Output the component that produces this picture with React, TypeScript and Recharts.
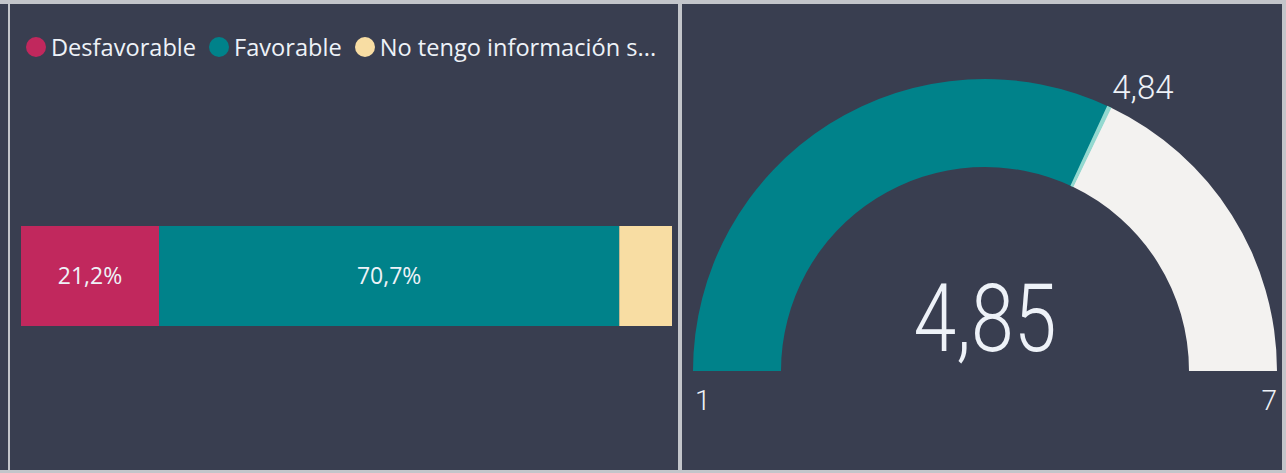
import { Bar, BarChart, Cell, LabelList, Pie, PieChart, XAxis, YAxis } from 'recharts';

const categories = ['Respuesta'];
const seriesNames = ['Desfavorable', 'Favorable', 'No tengo información suficiente'];
const seriesValues = [21.2, 70.7, 8.1];

const gaugeMin = 1;
const gaugeMax = 7;
const gaugeValue = 4.85;
const gaugeTarget = 4.84;

const BG = '#393e50';
const BORDER = '#c3c5ca';
const TEXT = '#eef2f8';
const seriesColors = ['#c1285d', '#00828a', '#f8dda3'];

const fmt = (v: number, digits = 2) => v.toFixed(digits).replace('.', ',');
const shortName = (s: string) => (s.length > 22 ? `${s.slice(0, 22)}...` : s);

const barData = categories.map((cat) => {
  const row: Record<string, any> = { cat };
  seriesNames.forEach((n, i) => (row[n] = seriesValues[i]));
  return row;
});

// gauge geometry (right panel coords)
const CX = 303;
const CY = 371;
const R_IN = 204;
const R_OUT = 292;
const MARK_W = 0.03;

const gaugeData = [
  { name: 'valor', value: gaugeValue - gaugeMin },
  { name: 'resto', value: gaugeMax - gaugeValue },
];
const targetData = [
  { name: 'a', value: gaugeTarget - gaugeMin - MARK_W / 2 },
  { name: 'objetivo', value: MARK_W },
  { name: 'b', value: gaugeMax - gaugeTarget - MARK_W / 2 },
];

const targetAngle = Math.PI - ((gaugeTarget - gaugeMin) / (gaugeMax - gaugeMin)) * Math.PI;
const tx = CX + R_OUT * Math.cos(targetAngle);
const ty = CY - R_OUT * Math.sin(targetAngle);

const font = '"Open Sans", "Noto Sans", sans-serif';
const numFont = 'Roboto, "DejaVu Sans", sans-serif';

export default function App() {
  return (
    <div style={{ position: 'absolute', left: 0, top: 0, width: 1286, height: 473, background: BG, overflow: 'hidden' }}>
      {/* frame */}
      <div style={{ position: 'absolute', left: 0, top: 0, width: 1286, height: 4, background: BORDER }} />
      <div style={{ position: 'absolute', left: 8, top: 0, width: 2, height: 473, background: BORDER }} />
      <div style={{ position: 'absolute', left: 678, top: 0, width: 4, height: 473, background: BORDER }} />
      <div style={{ position: 'absolute', left: 1282, top: 0, width: 4, height: 473, background: BORDER }} />
      <div style={{ position: 'absolute', left: 0, top: 470, width: 1286, height: 3, background: BORDER }} />

      {/* legend */}
      <div style={{ position: 'absolute', left: 26, top: 31, display: 'flex', alignItems: 'center', fontFamily: font, fontSize: 23.6, color: TEXT, whiteSpace: 'nowrap' }}>
        {seriesNames.map((n, i) => (
          <div key={n} style={{ display: 'flex', alignItems: 'center', marginRight: 13 }}>
            <span style={{ width: 20, height: 20, borderRadius: 10, background: seriesColors[i], marginRight: 5 }} />
            <span>{shortName(n)}</span>
          </div>
        ))}
      </div>

      <div style={{ position: 'absolute', left: 0, top: 0 }}>
        <BarChart width={680} height={473} data={barData} layout="vertical" margin={{ top: 79, right: 8, left: 21, bottom: 0 }}>
          <XAxis type="number" domain={[0, 100]} hide />
          <YAxis type="category" dataKey="cat" hide />
          {seriesNames.map((n, i) => (
            <Bar key={n} dataKey={n} stackId="s" fill={seriesColors[i]} barSize={100} isAnimationActive={false}>
              {seriesValues[i] >= 10 && (
                <LabelList
                  dataKey={n}
                  position="center"
                  fill={TEXT}
                  fontFamily={font}
                  fontSize={23}
                  formatter={(v: any) => `${fmt(Number(v), 1)}%`}
                />
              )}
            </Bar>
          ))}
        </BarChart>
      </div>

      <div style={{ position: 'absolute', left: 682, top: 0 }}>
        <PieChart width={600} height={470} margin={{ top: 0, right: 0, bottom: 0, left: 0 }}>
          <Pie data={gaugeData} dataKey="value" cx={CX} cy={CY} innerRadius={R_IN} outerRadius={R_OUT} startAngle={180} endAngle={0} stroke="none" isAnimationActive={false}>
            <Cell fill="#00828a" />
            <Cell fill="#f3f2f0" />
          </Pie>
          <Pie data={targetData} dataKey="value" cx={CX} cy={CY} innerRadius={R_IN} outerRadius={R_OUT} startAngle={180} endAngle={0} stroke="none" isAnimationActive={false}>
            <Cell fill="transparent" />
            <Cell fill="#93d9d0" />
            <Cell fill="transparent" />
          </Pie>
          <text x={CX} y={351} textAnchor="middle" fill={TEXT} fontFamily={numFont} fontWeight={300} fontSize={94} style={{ transform: 'scaleX(0.82)', transformOrigin: `${CX}px 0px` }}>
            {fmt(gaugeValue)}
          </text>
          <text x={tx + 3} y={ty - 8} textAnchor="start" fill={TEXT} fontFamily={numFont} fontWeight={300} fontSize={33}>
            {fmt(gaugeTarget)}
          </text>
          <text x={CX - R_OUT + 2} y={410} textAnchor="start" fill={TEXT} fontFamily={numFont} fontWeight={300} fontSize={28}>
            {gaugeMin}
          </text>
          <text x={CX + R_OUT} y={410} textAnchor="end" fill={TEXT} fontFamily={numFont} fontWeight={300} fontSize={28}>
            {gaugeMax}
          </text>
        </PieChart>
      </div>
    </div>
  );
}
